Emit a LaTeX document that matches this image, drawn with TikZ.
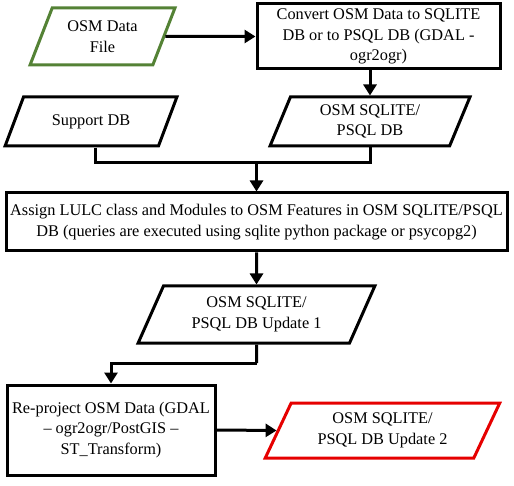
\documentclass[tikz,border=0pt]{standalone}
\usepackage{fontspec}
\setmainfont{Liberation Serif}
\usetikzlibrary{shapes.geometric,arrows.meta,calc}
\definecolor{fgreen}{RGB}{84,130,53}
\definecolor{fred}{RGB}{230,0,0}
\begin{document}
\begin{tikzpicture}[x=1pt,y=-1pt,
  every node/.style={font=\fontsize{16.3}{20.5}\selectfont, align=center, inner sep=1pt},
  procbox/.style={draw=black, line width=3pt, rectangle, fill=white},
  iobox/.style={draw=black, line width=3pt, trapezium, trapezium stretches=true, fill=white},
  arr/.style={line width=3pt, -{Triangle[length=11pt,width=13pt]}},
  ln/.style={line width=3pt}]
\useasboundingbox (0,0) rectangle (514,486);
\node[iobox, draw=fgreen, minimum width=145pt, minimum height=57pt,
  trapezium left angle=64.6, trapezium right angle=115.4] (file) at (102.5,36.5) {OSM Data\\File};
\node[procbox, minimum width=243pt, minimum height=65pt] (convert) at (378.5,36.5)
  {Convert OSM Data to SQLITE\\DB or to PSQL DB (GDAL -\\ogr2ogr)};
\node[iobox, minimum width=172pt, minimum height=49pt,
  trapezium left angle=56, trapezium right angle=124] (support) at (91,121.5) {Support DB};
\node[iobox, minimum width=200pt, minimum height=49pt,
  trapezium left angle=70, trapezium right angle=110] (sqlite) at (370,121.5) {OSM SQLITE/\\PSQL DB};
\node[procbox, minimum width=501pt, minimum height=58pt] (assign) at (256.5,222)
  {Assign LULC class and Modules to OSM Features in OSM SQLITE/PSQL\\DB (queries are executed using sqlite python package or psycopg2)};
\node[iobox, minimum width=237pt, minimum height=57pt,
  trapezium left angle=64, trapezium right angle=116] (up1) at (256.5,314.5) {OSM SQLITE/\\PSQL DB Update 1};
\node[procbox, minimum width=208pt, minimum height=90pt] (reproj) at (111,430)
  {Re-project OSM Data (GDAL\\– ogr2ogr/PostGIS –\\ST\_Transform)};
\node[iobox, draw=fred, minimum width=235pt, minimum height=55pt,
  trapezium left angle=63, trapezium right angle=117] (up2) at (382.5,430.5) {OSM SQLITE/\\PSQL DB Update 2};
\coordinate (j) at (256.5,163);
\coordinate (j2) at (256.5,363);
\draw[arr] (file.east) -- (convert.west);
\draw[arr] (convert.south -| sqlite.center) -- (sqlite.north -| sqlite.center);
\draw[ln] ($(support.south)+(4,0)$) |- (sqlite.south |- j) -- (sqlite.south);
\draw[arr] (j) -- (assign.north);
\draw[arr] (assign.south) -- (up1.north);
\draw[ln] (up1.south) -- (j2);
\draw[arr] (j2) -| (reproj.north);
\draw[arr] (reproj.east) -- (up2.west);
\end{tikzpicture}
\end{document}
